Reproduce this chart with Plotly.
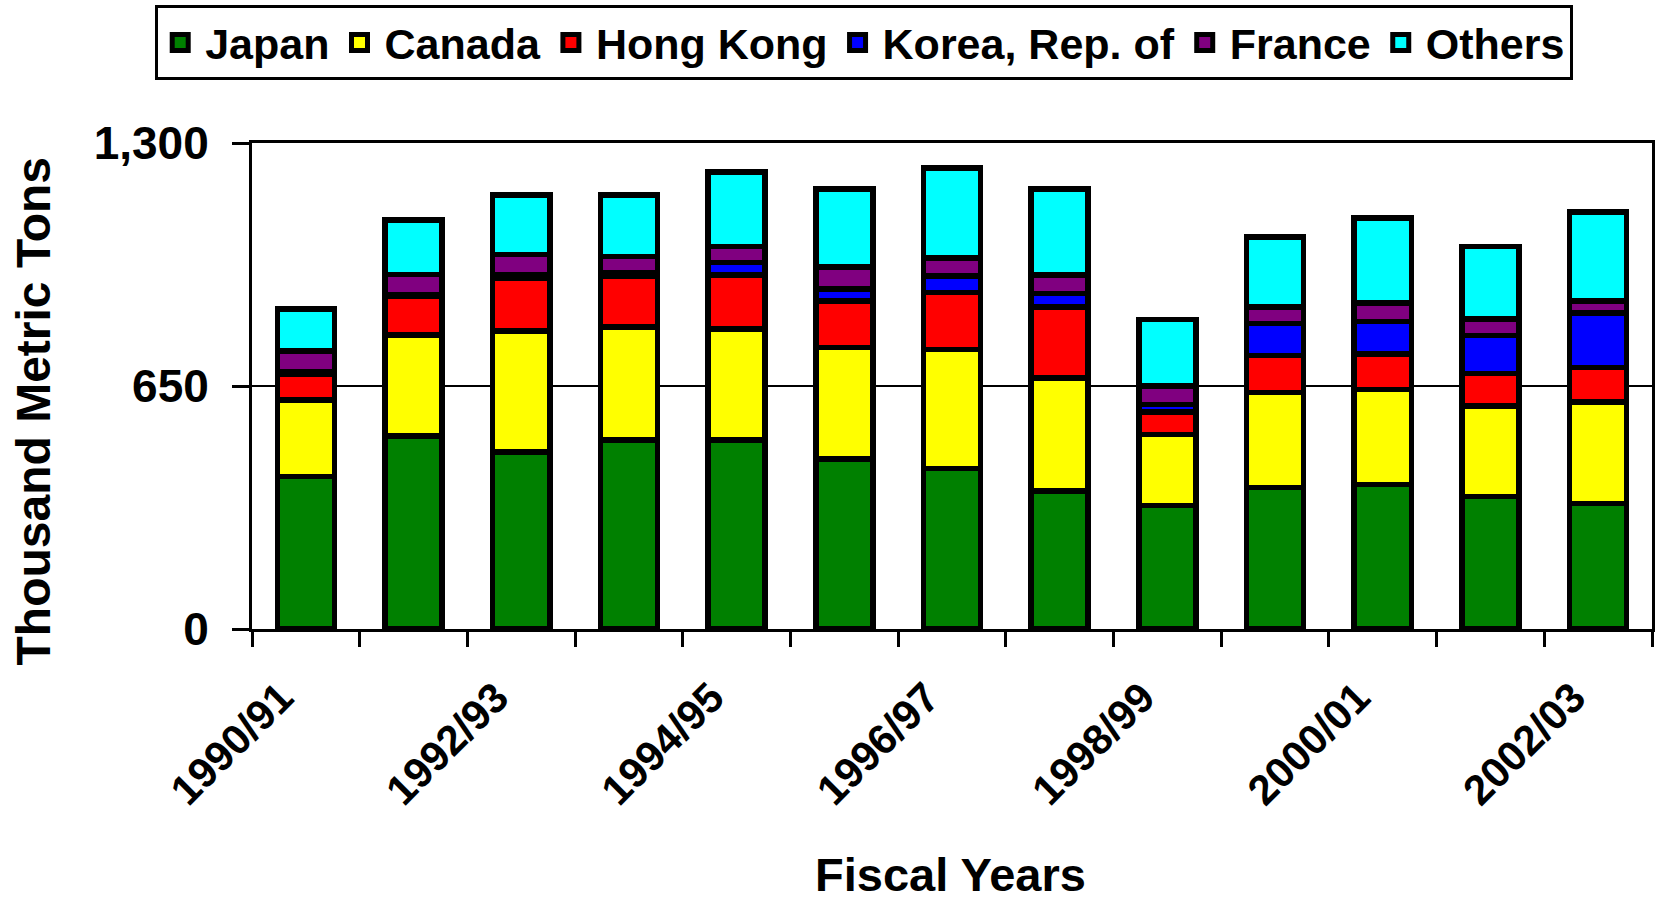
import plotly.graph_objects as go

fiscal_years = ["1990/91", "1991/92", "1992/93", "1993/94", "1994/95", "1995/96", "1996/97",
                "1997/98", "1998/99", "1999/00", "2000/01", "2001/02", "2002/03"]

japan = [408, 516, 473, 505, 505, 455, 429, 369, 331, 379, 386, 354, 336]
canada = [205, 270, 324, 303, 298, 298, 318, 303, 189, 254, 254, 242, 271]
hong_kong = [69, 103, 140, 135, 144, 124, 153, 189, 60, 98, 96, 87, 92]
korea = [5, 4, 10, 10, 33, 32, 44, 37, 21, 86, 87, 102, 146]
france = [57, 55, 55, 43, 43, 59, 48, 49, 49, 44, 49, 44, 33]
others = [112, 146, 159, 165, 200, 209, 241, 230, 178, 188, 227, 194, 238]

series_names = ["Japan", "Canada", "Hong Kong", "Korea, Rep. of", "France", "Others"]
series_values = [japan, canada, hong_kong, korea, france, others]
series_colors = ["#008000", "#FFFF00", "#FF0000", "#0000FF", "#800080", "#00FFFF"]

y_ticks = [0, 650, 1300]
label_years = fiscal_years[::2]

FONT = "Liberation Sans, Arial, Helvetica, sans-serif"

x_idx = list(range(len(fiscal_years)))

fig = go.Figure()
for name, vals, col in zip(series_names, series_values, series_colors):
    fig.add_trace(go.Bar(
        x=x_idx, y=vals, name=name, legendgroup=name, showlegend=False,
        marker=dict(color=col, line=dict(color="black", width=5.5)),
        customdata=fiscal_years,
        hovertemplate="%{customdata}<br>" + name + ": %{y}<extra></extra>",
    ))
# legend entries
for name, col in zip(series_names, series_colors):
    fig.add_trace(go.Scatter(
        x=[None], y=[None], mode="markers", name=name, legendgroup=name,
        marker=dict(symbol="square", size=16, color=col, line=dict(color="black", width=5)),
    ))

L, R, T, B = 252, 1655, 143, 629
W, H = 1658, 903

fig.update_layout(
    width=W, height=H,
    margin=dict(l=L, r=W - R, t=T, b=H - B, pad=0),
    barmode="stack", bargap=0.47,
    plot_bgcolor="white", paper_bgcolor="white",
    font=dict(family=FONT, color="black", size=44, weight="bold"),
    legend=dict(
        orientation="h", x=(155 - L) / (R - L), xanchor="left",
        y=(B - 5) / (B - T), yanchor="top",
        bordercolor="black", borderwidth=3, bgcolor="white",
        font=dict(family=FONT, size=43, color="black", weight="bold"),
        itemsizing="trace", itemwidth=40, tracegroupgap=0,
    ),
    showlegend=True,
)

fig.update_yaxes(
    range=[0, 1300], tickmode="array", tickvals=y_ticks, tickformat=",",
    ticks="outside", ticklen=17, tickwidth=3, tickcolor="black",
    showline=True, linewidth=3, linecolor="black", mirror=True,
    showgrid=True, gridcolor="black", gridwidth=2, zeroline=False,
    tickfont=dict(family=FONT, size=46, color="black", weight="bold"),
    ticklabelstandoff=14,
)

fig.update_xaxes(
    range=[-0.5, len(fiscal_years) - 0.5], tickmode="array",
    tickvals=x_idx[::2], ticktext=label_years, tickangle=-45,
    ticks="", showline=True, linewidth=3, linecolor="black", mirror=True,
    showgrid=False, zeroline=False,
    tickfont=dict(family=FONT, size=42, color="black", weight="bold"),
    minor=dict(tickmode="array", tickvals=[i - 0.5 for i in range(len(fiscal_years) + 1)],
               ticks="outside", ticklen=15, tickwidth=3, tickcolor="black", showgrid=False),
    ticklabelstandoff=24, ticklabelshift=-25,
)

fig.add_annotation(
    text="Thousand Metric Tons", textangle=-90, showarrow=False,
    xref="paper", yref="paper", x=(34 - L) / (R - L), y=(B - 411) / (B - T),
    xanchor="center", yanchor="middle",
    font=dict(family=FONT, size=48, color="black", weight="bold"),
)
fig.add_annotation(
    text="Fiscal Years", showarrow=False,
    xref="paper", yref="paper", x=(952 - L) / (R - L), y=(B - 903) / (B - T),
    xanchor="center", yanchor="bottom",
    font=dict(family=FONT, size=47, color="black", weight="bold"),
)

fig.write_html(
    "out.html",
    config={"displayModeBar": False},
    post_script="document.body.style.margin='0px';document.body.style.overflow='hidden';",
)
